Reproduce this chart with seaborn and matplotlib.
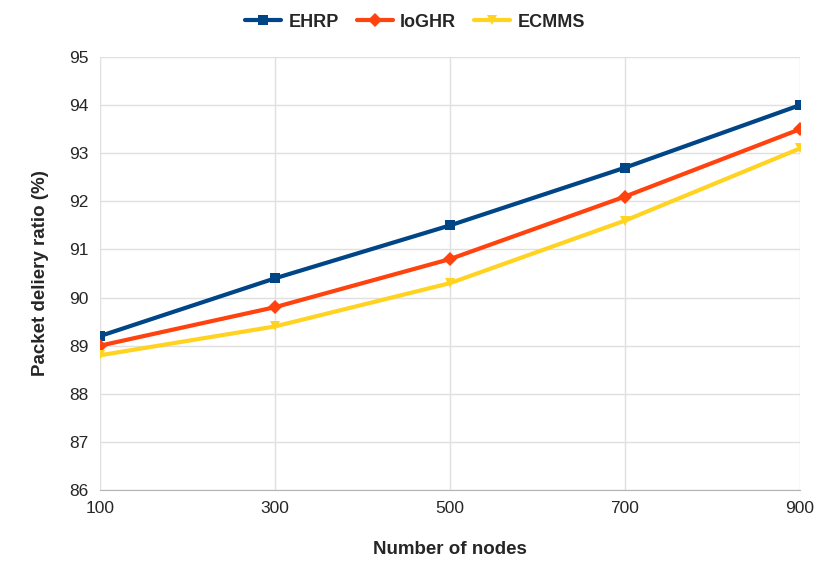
import pandas as pd
import seaborn as sns
import matplotlib.pyplot as plt

nodes = [100, 300, 500, 700, 900]
ehrp = [89.2, 90.4, 91.5, 92.7, 94.0]
ioghr = [89.0, 89.8, 90.8, 92.1, 93.5]
ecmms = [88.8, 89.4, 90.3, 91.6, 93.1]

df = pd.DataFrame({"nodes": nodes, "EHRP": ehrp, "IoGHR": ioghr, "ECMMS": ecmms})
long = df.melt(id_vars="nodes", var_name="method", value_name="pdr")

sns.set_style("white")
plt.rcParams["font.family"] = ["Liberation Sans", "DejaVu Sans"]

fig = plt.figure(figsize=(8.3, 5.81), dpi=100)
ax = fig.add_axes([0.1205, 0.1566, 0.8434, 0.7453])

palette = {"EHRP": "#004586", "IoGHR": "#ff420e", "ECMMS": "#ffd320"}
markers = {"EHRP": "s", "IoGHR": "D", "ECMMS": "v"}
sizes = {"EHRP": 9, "IoGHR": 7, "ECMMS": 10}

for m in ["EHRP", "IoGHR", "ECMMS"]:
    sub = long[long["method"] == m]
    sns.lineplot(data=sub, x="nodes", y="pdr", ax=ax, color=palette[m],
                 marker=markers[m], markersize=sizes[m], markeredgewidth=0,
                 linewidth=3, label=m, zorder=3)

ax.set_xlim(100, 900)
ax.set_ylim(86, 95)
ax.set_xticks(nodes)
ax.set_yticks(range(86, 96))
ax.grid(True, color="#e0e0e0", linewidth=1)
for s in ["top", "right", "left"]:
    ax.spines[s].set_visible(False)
ax.spines["bottom"].set_color("#b3b3b3")
ax.tick_params(labelsize=12.5, length=0, pad=8)

ax.set_xlabel("Number of nodes", fontsize=13.5, fontweight="bold", labelpad=18)
ax.set_ylabel("Packet deliery ratio (%)", fontsize=13.5, fontweight="bold", labelpad=15)

handles, labels = ax.get_legend_handles_labels()
ax.get_legend().remove()
for h in handles:
    h.set_markersize(7)
fig.legend(handles, labels, loc="center", bbox_to_anchor=(0.5, 0.962), ncol=3,
           frameon=False, prop={"size": 13, "weight": "bold"}, handlelength=2.0,
           columnspacing=1.0, handletextpad=0.4)

fig.savefig("out.png", dpi=100)
